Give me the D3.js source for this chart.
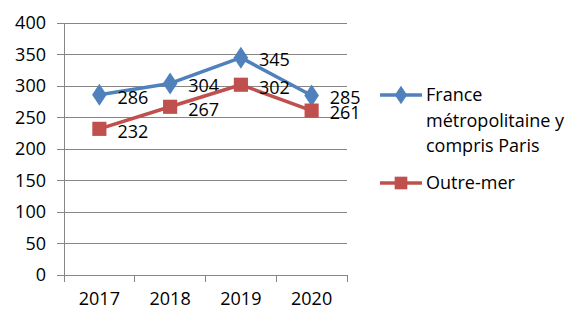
<!DOCTYPE html>
<html><head><meta charset="utf-8">
<script src="https://cdn.jsdelivr.net/npm/d3@7"></script>
<style>body{margin:0;background:#fff}svg{display:block}text{font-family:"Open Sans",Lato,sans-serif;fill:#000}</style>
</head><body><svg id="c" width="584" height="328"></svg>
<script>
const years = ["2017","2018","2019","2020"];
const metro = [286,304,345,285];
const outre = [232,267,302,261];
const seriesNames = ["France métropolitaine y compris Paris","Outre-mer"];
const yTicks = [0,50,100,150,200,250,300,350,400];

const svg = d3.select("#c");
const L=64, R=347, T=23, B=275;
const x = d3.scaleBand().domain(years).range([L,R]);
const y = d3.scaleLinear().domain([0,400]).range([B,T]);
const fs = 18;

svg.append("g").selectAll("line").data(yTicks).join("line")
  .attr("x1",L-7).attr("x2",R).attr("y1",d=>y(d)).attr("y2",d=>y(d))
  .attr("stroke","#868686").attr("stroke-width",1).attr("shape-rendering","crispEdges");
svg.append("line").attr("x1",L).attr("x2",L).attr("y1",T).attr("y2",B+7)
  .attr("stroke","#868686").attr("shape-rendering","crispEdges");
const xt = years.map(d=>x(d)).concat([R]);
svg.append("g").selectAll("line").data(xt).join("line")
  .attr("x1",d=>d).attr("x2",d=>d).attr("y1",B).attr("y2",B+7)
  .attr("stroke","#868686").attr("shape-rendering","crispEdges");
svg.append("g").selectAll("text").data(yTicks).join("text")
  .attr("x",L-18).attr("y",d=>y(d)).attr("dy","0.35em").attr("text-anchor","end")
  .attr("font-size",fs).text(d=>d);
svg.append("g").selectAll("text").data(years).join("text")
  .attr("x",d=>x(d)+x.bandwidth()/2).attr("y",B+30).attr("text-anchor","middle")
  .attr("font-size",fs).text(d=>d);

const cx = d=>x(d)+x.bandwidth()/2;
const colors = ["#4F81BD","#C0504D"];
const data = [metro,outre];
data.forEach((vals,i)=>{
  const pts = years.map((yr,j)=>[cx(yr),y(vals[j])]);
  svg.append("path").attr("d",d3.line()(pts)).attr("fill","none")
    .attr("stroke",colors[i]).attr("stroke-width",3.5).attr("stroke-linejoin","round");
  const sym = i===0 ? d3.symbol(d3.symbolDiamond,140) : d3.symbol(d3.symbolSquare,200);
  svg.append("g").selectAll("path").data(pts).join("path")
    .attr("transform",p=>`translate(${p[0]},${p[1]})${i===0?" scale(1.15,1)":""}`)
    .attr("d",sym()).attr("fill",colors[i]);
  svg.append("g").selectAll("text").data(vals).join("text")
    .attr("x",(v,j)=>cx(years[j])+18).attr("y",v=>y(v)+2.5).attr("dy","0.35em")
    .attr("font-size",fs).text(v=>v);
});

const lg = svg.append("g");
const legY = [95,183];
const legLines = [["France","métropolitaine y","compris Paris"],["Outre-mer"]];
legY.forEach((ly,i)=>{
  lg.append("line").attr("x1",380).attr("x2",422).attr("y1",ly).attr("y2",ly)
    .attr("stroke",colors[i]).attr("stroke-width",3.5);
  const sym = i===0 ? d3.symbol(d3.symbolDiamond,100) : d3.symbol(d3.symbolSquare,160);
  lg.append("path").attr("transform",`translate(401,${ly})${i===0?" scale(1.15,1)":""}`).attr("d",sym()).attr("fill",colors[i]);
  legLines[i].forEach((t,k)=>{
    lg.append("text").attr("x",426).attr("y",ly+k*25.5).attr("dy","0.35em")
      .attr("font-size",fs).text(t);
  });
});
</script></body></html>
